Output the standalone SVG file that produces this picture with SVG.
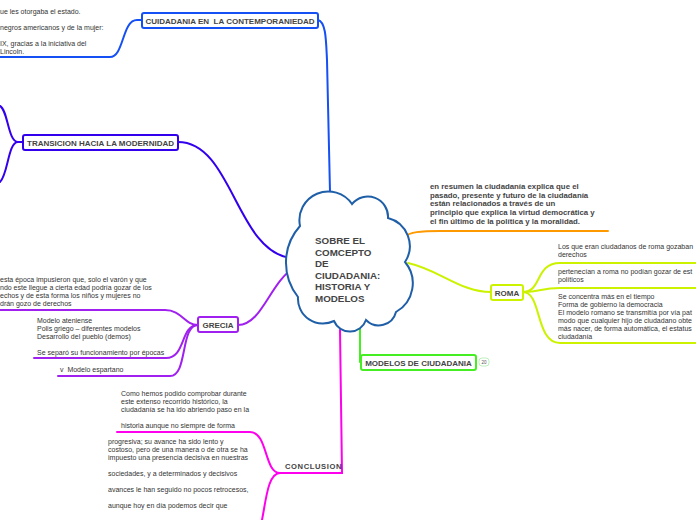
<svg xmlns="http://www.w3.org/2000/svg" width="696" height="520" viewBox="0 0 696 520">
<style>
.t{font-family:"Liberation Sans",Arial,sans-serif;font-size:7px;fill:#333}
.n{font-family:"Liberation Sans",Arial,sans-serif;font-size:8px;font-weight:bold;fill:#444;white-space:pre}
.cl{font-family:"Liberation Sans",Arial,sans-serif;font-size:9.8px;font-weight:bold;fill:#444}
.r{font-family:"Liberation Sans",Arial,sans-serif;font-size:7.8px;font-weight:bold;fill:#444}
.c{fill:none;stroke-width:2;stroke-linecap:round}
.box{fill:#fff;stroke-width:2}
</style>
<rect width="696" height="520" fill="#fff"/>
<g id="connectors">
<path class="c" stroke="#1550f5" d="M318 20 C326 22 326 40 327 60 L330 192"/>
<path class="c" stroke="#1550f5" d="M142 20 L137 20 C122 20 124 57 110 57 L0 57"/>
<path class="c" stroke="#3300ee" d="M178 142 C232 142 236 250 290 258"/>
<path class="c" stroke="#3300ee" d="M23 142 L18 142 C8 142 8 110 0 106"/>
<path class="c" stroke="#3300ee" d="M18 142 C8 142 8 175 0 182"/>
<path class="c" stroke="#a020f0" d="M238 325 C262 325 270 282 294 268"/>
<path class="c" stroke="#a020f0" d="M198 325 C184 325 182 310 165 310 L0 310"/>
<path class="c" stroke="#a020f0" d="M198 325 C180 325 186 358 166 358 L34 358"/>
<path class="c" stroke="#a020f0" d="M198 325 C180 325 188 376 170 376 L58 376"/>
<path class="c" stroke="#ccf200" d="M408 263 C440 270 460 292 491 292"/>
<path class="c" stroke="#ccf200" d="M523 292 C542 292 535 263 560 263 L696 263"/>
<path class="c" stroke="#ccf200" d="M523 292 C542 292 540 288 560 288 L696 288"/>
<path class="c" stroke="#ccf200" d="M523 292 C542 292 535 343 560 343 L696 343"/>
<path class="c" stroke="#ff9900" d="M404 237 C410 232 420 231 440 231 L608 231"/>
<path class="c" stroke="#44ee22" d="M360 328 L360 362"/>
<path class="c" stroke="#ff00ee" d="M340 330 L342 473 L280 473"/>
<path class="c" stroke="#ff00ee" d="M280 473 C264 473 268 432 250 432 L117 432"/>
<path class="c" stroke="#ff00ee" d="M280 473 C268 473 266 500 262 520"/>
</g>
<g id="center">
<path fill="#fff" stroke="#1f5fa8" stroke-width="2" d="M300 226 A28.8 28.8 0 0 1 352 204 A20.3 20.3 0 0 1 388 218 A29 29 0 0 1 405 262 A33 33 0 0 1 396 312 A17.8 17.8 0 0 1 366 320 A17.1 17.1 0 0 1 334 321 A25 25 0 0 1 298 297 A55 55 0 0 1 300 226 Z"/>
<text class="cl" x="315" y="244">SOBRE EL</text>
<text class="cl" x="315" y="256">COMCEPTO</text>
<text class="cl" x="315" y="267">DE</text>
<text class="cl" x="315" y="279">CIUDADANIA:</text>
<text class="cl" x="315" y="290">HISTORIA Y</text>
<text class="cl" x="315" y="302">MODELOS</text>
</g>
<g id="contemporaneidad">
<rect class="box" stroke="#1550f5" x="142" y="13" width="176" height="15" rx="2"/>
<text class="n" x="230" y="23.5" text-anchor="middle" xml:space="preserve">CUIDADANIA EN  LA CONTEMPORANIEDAD</text>
<text class="t" x="0" y="14">ue les otorgaba el estado.</text>
<text class="t" x="0" y="30">negros americanos y de la mujer:</text>
<text class="t" x="0" y="46">IX, gracias a la iniciativa del</text>
<text class="t" x="0" y="54">Lincoln.</text>
</g>
<g id="transicion">
<rect class="box" stroke="#3300ee" x="23" y="135" width="155" height="15" rx="2"/>
<text class="n" x="100.5" y="145.5" text-anchor="middle">TRANSICION HACIA LA MODERNIDAD</text>
</g>
<g id="grecia">
<rect class="box" stroke="#a020f0" x="198" y="317" width="40" height="15" rx="2"/>
<text class="n" x="218" y="327.5" text-anchor="middle">GRECIA</text>
<text class="t" x="0" y="282">esta época impusieron que, solo el varón y que</text>
<text class="t" x="0" y="290">ndo este llegue a cierta edad podría gozar de los</text>
<text class="t" x="0" y="298">echos y de esta forma los niños y mujeres no</text>
<text class="t" x="0" y="306">drán gozo de derechos</text>
<text class="t" x="37" y="323">Modelo ateniense</text>
<text class="t" x="37" y="331">Polis griego – diferentes modelos</text>
<text class="t" x="37" y="339">Desarrollo del pueblo (demos)</text>
<text class="t" x="37" y="355">Se separó su funcionamiento por épocas</text>
<text class="t" x="60" y="372" xml:space="preserve">v  Modelo espartano</text>
</g>
<g id="resumen">
<text class="r"><tspan x="430" y="189">en resumen la ciudadanía explica que el</tspan><tspan x="430" y="198">pasado, presente y futuro de la ciudadanía</tspan><tspan x="430" y="206">están relacionados a través de un</tspan><tspan x="430" y="215">principio que explica la virtud democrática y</tspan><tspan x="430" y="224">el fin último de la política y la moralidad.</tspan></text>
</g>
<g id="roma">
<rect class="box" stroke="#ccf200" x="491" y="285" width="32" height="15" rx="2"/>
<text class="n" x="507" y="295.5" text-anchor="middle">ROMA</text>
<text class="t" x="558" y="249">Los que eran ciudadanos de roma gozaban</text>
<text class="t" x="558" y="257">derechos</text>
<text class="t" x="558" y="274">pertenecían a roma no podían gozar de est</text>
<text class="t" x="558" y="282">políticos</text>
<text class="t" x="558" y="299">Se concentra más en el tiempo</text>
<text class="t" x="558" y="307">Forma de gobierno la democracia</text>
<text class="t" x="558" y="315">El modelo romano se transmitía por vía pat</text>
<text class="t" x="558" y="323">modo que cualquier hijo de ciudadano obte</text>
<text class="t" x="558" y="331">más nacer, de forma automática, el estatus</text>
<text class="t" x="558" y="339">ciudadanía</text>
</g>
<g id="modelos">
<rect class="box" stroke="#44ee22" x="361" y="355" width="115" height="15" rx="2"/>
<text class="n" x="418.5" y="365.5" text-anchor="middle">MODELOS DE CIUDADANIA</text>
<rect x="479" y="358" width="10" height="8" rx="3" fill="#fff" stroke="#aaeeaa" stroke-width="0.8"/>
<text x="484" y="364" text-anchor="middle" font-family="Liberation Sans, sans-serif" font-size="4.5" fill="#555">20</text>
</g>
<g id="conclusion">
<text class="n" x="285" y="469" style="font-size:7.6px;letter-spacing:0.6px">CONCLUSION</text>
<text class="t" x="121" y="396">Como hemos podido comprobar durante</text>
<text class="t" x="121" y="404">este extenso recorrido histórico, la</text>
<text class="t" x="121" y="412">ciudadanía se ha ido abriendo paso en la</text>
<text class="t" x="121" y="428">historia aunque no siempre de forma</text>
<text class="t" x="108" y="444">progresiva; su avance ha sido lento y</text>
<text class="t" x="108" y="452">costoso, pero de una manera o de otra se ha</text>
<text class="t" x="108" y="460">impuesto una presencia decisiva en nuestras</text>
<text class="t" x="108" y="476">sociedades, y a determinados y decisivos</text>
<text class="t" x="108" y="492">avances le han seguido no pocos retrocesos,</text>
<text class="t" x="108" y="508">aunque hoy en día podemos decir que</text>
</g>
</svg>
